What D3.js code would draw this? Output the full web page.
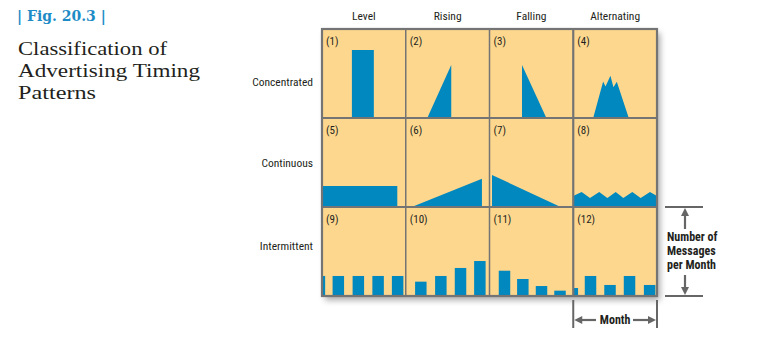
<!DOCTYPE html>
<html><head><meta charset="utf-8">
<script src="https://cdn.jsdelivr.net/npm/d3@7"></script>
<style>
html,body{margin:0;padding:0;background:#fff;}
svg{display:block;}
.narrow{font-family:"Liberation Sans Narrow","Arial Narrow","Roboto Condensed","Liberation Sans",sans-serif;}
</style>
</head><body>
<svg id="chart" width="760" height="344"></svg>
<script>
// ---- data ----
const columns = ["Level", "Rising", "Falling", "Alternating"];
const rowsLabels = ["Concentrated", "Continuous", "Intermittent"];
const cellLabels = ["(1)","(2)","(3)","(4)","(5)","(6)","(7)","(8)","(9)","(10)","(11)","(12)"];

// area patterns: [time % of month, messages % of max]
const levelConcentrated = [[35.7,76.4],[61.9,76.4]];
const risingConcentrated = [[25.7,0],[54.3,59.6]];
const fallingConcentrated = [[38.8,59.6],[67.9,0]];
const alternatingConcentrated = [[23.8,0],[35.7,41],[38.5,35.4],[44.4,47.4],[48.0,34.6],[52.0,40.7],[66.3,0]];
const levelContinuous = [[0,23.6],[89.9,23.6]];
const risingContinuous = [[7.1,0],[91,31.8]];
const fallingContinuous = [[3,36],[85,0]];
const alternatingContinuous = [[0,12.4],[10,16.9],[20,10.1],[31,16.9],[40.7,10.1],[50.7,16.9],[59.8,10.1],[70.5,16.9],[80.5,10.1],[91.6,16.9],[100,12.4]];

// bar patterns: [bar centre time %, messages %]
const levelIntermittent = [[-3.1,22.5],[19.5,22.5],[43.4,22.5],[67.0,22.5],[90.3,22.5]];
const risingIntermittent = [[18.0,16.1],[41.9,22.5],[65.4,31.5],[88.5,39.3]];
const fallingIntermittent = [[17.9,28.4],[39.8,19.1],[62.1,11.2],[84.2,6]];
const alternatingIntermittent = [[-1.1,9],[20.6,22.5],[43.9,12.4],[67.2,22.5],[91.2,12.4]];

const titleLines = ["Classification of","Advertising Timing","Patterns"];

const patterns = [
  {type:"area", data: levelConcentrated},
  {type:"area", data: risingConcentrated},
  {type:"area", data: fallingConcentrated},
  {type:"area", data: alternatingConcentrated},
  {type:"area", data: levelContinuous},
  {type:"area", data: risingContinuous},
  {type:"area", data: fallingContinuous},
  {type:"area", data: alternatingContinuous},
  {type:"bar", data: levelIntermittent},
  {type:"bar", data: risingIntermittent},
  {type:"bar", data: fallingIntermittent},
  {type:"bar", data: alternatingIntermittent}
];

// ---- layout ----
const svg = d3.select("#chart");
const gridL = 322, gridT = 29, gridR = 657, gridB = 296;
const cellW = (gridR - gridL) / 4, cellH = (gridB - gridT) / 3;
const fill = "#FDD78E", blue = "#0088BF", border = "#747474";

const defs = svg.append("defs");
const f = defs.append("filter").attr("id","shadow").attr("x","-10%").attr("y","-10%").attr("width","130%").attr("height","130%");
f.append("feDropShadow").attr("dx",3).attr("dy",4).attr("stdDeviation",3).attr("flood-color","#000").attr("flood-opacity",0.35);

// title
svg.append("text").attr("x",17).attr("y",21)
  .attr("font-family","'DejaVu Serif',serif").attr("font-weight","bold").attr("font-size",14)
  .attr("fill","#1d8bc6").text("| Fig.  20.3 |");
const titleWidths = [149, 182, 78];
titleLines.forEach((t,i)=>{
  svg.append("text").attr("x",18).attr("y",54.5+i*22)
    .attr("font-family","'Liberation Serif',serif").attr("font-size",19.5)
    .attr("textLength",titleWidths[i]).attr("lengthAdjust","spacingAndGlyphs")
    .attr("fill","#231f20").text(t);
});

// grid background with shadow
svg.append("rect").attr("x",gridL).attr("y",gridT).attr("width",gridR-gridL).attr("height",gridB-gridT)
  .attr("fill",fill).attr("filter","url(#shadow)");

const x = d3.scaleLinear().domain([0,100]).range([0,cellW]);
const y = d3.scaleLinear().domain([0,100]).range([cellH,0]);
const area = d3.area().x(d=>x(d[0])).y0(y(0)).y1(d=>y(d[1]));
const barW = x(13.7) - x(0);

patterns.forEach((p,i)=>{
  const c = i % 4, r = Math.floor(i/4);
  const cx = gridL + c*cellW, cy = gridT + r*cellH;
  defs.append("clipPath").attr("id","clip"+i).append("rect").attr("width",cellW).attr("height",cellH);
  const g = svg.append("g").attr("transform",`translate(${cx},${cy})`).attr("clip-path",`url(#clip${i})`);
  if (p.type === "area") {
    g.append("path").datum(p.data).attr("d",area).attr("fill",blue);
  } else {
    g.selectAll("rect").data(p.data).join("rect")
      .attr("x",d=>x(d[0])-barW/2).attr("width",barW)
      .attr("y",d=>y(d[1])).attr("height",d=>y(0)-y(d[1]))
      .attr("fill",blue);
  }
  svg.append("text").attr("class","narrow").attr("x",cx+4).attr("y",cy+16)
    .attr("font-size",11).attr("fill","#231f20").text(cellLabels[i]);
});

// grid lines
for (let c=1;c<4;c++){
  svg.append("line").attr("x1",gridL+c*cellW).attr("x2",gridL+c*cellW).attr("y1",gridT).attr("y2",gridB)
    .attr("stroke",border).attr("stroke-width", c===3?2.2:1.5);
}
for (let r=1;r<3;r++){
  svg.append("line").attr("x1",gridL).attr("x2",gridR).attr("y1",gridT+r*cellH).attr("y2",gridT+r*cellH)
    .attr("stroke",border).attr("stroke-width",1.8);
}
svg.append("rect").attr("x",gridL).attr("y",gridT).attr("width",gridR-gridL).attr("height",gridB-gridT)
  .attr("fill","none").attr("stroke",border).attr("stroke-width",2.2);

// column headers
columns.forEach((t,c)=>{
  svg.append("text").attr("class","narrow").attr("x",gridL+(c+0.5)*cellW).attr("y",20)
    .attr("text-anchor","middle").attr("font-size",11.5).attr("fill","#231f20").text(t);
});
// row labels (label offsets within each row)
const rowLabelOffset = [57, 49, 43];
rowsLabels.forEach((t,r)=>{
  svg.append("text").attr("class","narrow").attr("x",313).attr("y",gridT+r*cellH+rowLabelOffset[r])
    .attr("text-anchor","end").attr("font-size",11.5).attr("fill","#231f20").text(t);
});

// annotation: number of messages
const ann = "#666";
const yTop = gridT+2*cellH, yBot = gridB;
[yTop,yBot].forEach(yy=>svg.append("line").attr("x1",665).attr("x2",703).attr("y1",yy).attr("y2",yy)
  .attr("stroke",ann).attr("stroke-width",2));
svg.append("line").attr("x1",685).attr("x2",685).attr("y1",yTop+5).attr("y2",yTop+22).attr("stroke",ann).attr("stroke-width",2.2);
svg.append("path").attr("d",`M${681},${yTop+9}L685,${yTop+1}L689,${yTop+9}Z`).attr("fill",ann);
svg.append("line").attr("x1",685).attr("x2",685).attr("y1",yBot-21).attr("y2",yBot-5).attr("stroke",ann).attr("stroke-width",2.2);
svg.append("path").attr("d",`M${681},${yBot-9}L685,${yBot-1}L689,${yBot-9}Z`).attr("fill",ann);
["Number of","Messages","per Month"].forEach((t,i)=>{
  svg.append("text").attr("class","narrow").attr("x",667).attr("y",240.5+i*14.2)
    .attr("font-size",12).attr("font-weight","bold").attr("fill","#231f20").text(t);
});

// annotation: month
const mL = gridL+3*cellW, mR = gridR, mY = 320;
[mL,mR].forEach(xx=>svg.append("line").attr("x1",xx).attr("x2",xx).attr("y1",300).attr("y2",328)
  .attr("stroke",ann).attr("stroke-width",2));
svg.append("line").attr("x1",mL+5).attr("x2",596).attr("y1",mY).attr("y2",mY).attr("stroke",ann).attr("stroke-width",2.2);
svg.append("path").attr("d",`M${mL+9},${mY-4}L${mL+1},${mY}L${mL+9},${mY+4}Z`).attr("fill",ann);
svg.append("line").attr("x1",633).attr("x2",mR-5).attr("y1",mY).attr("y2",mY).attr("stroke",ann).attr("stroke-width",2.2);
svg.append("path").attr("d",`M${mR-9},${mY-4}L${mR-1},${mY}L${mR-9},${mY+4}Z`).attr("fill",ann);
svg.append("text").attr("class","narrow").attr("x",(mL+mR)/2).attr("y",324)
  .attr("text-anchor","middle").attr("font-size",12).attr("font-weight","bold").attr("fill","#231f20").text("Month");
</script>
</body></html>
